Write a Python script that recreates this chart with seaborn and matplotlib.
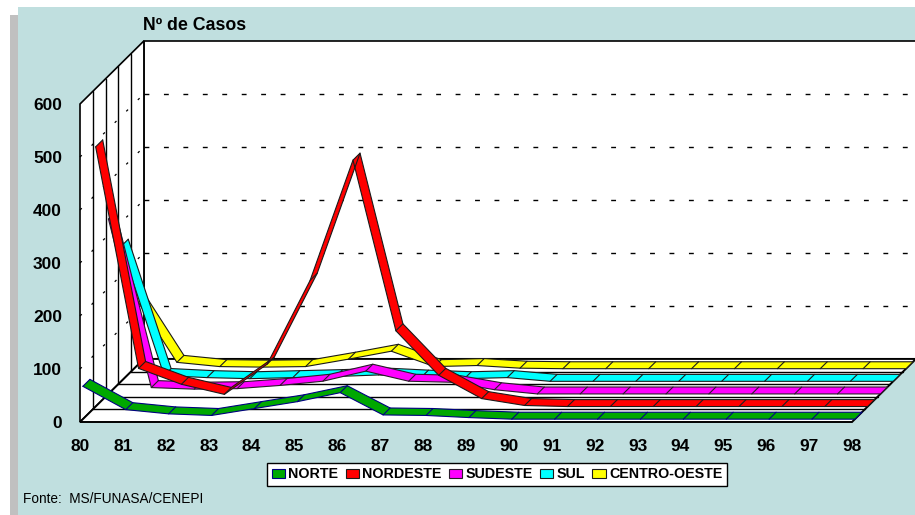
import numpy as np
import pandas as pd
import matplotlib
matplotlib.use('Agg')
import matplotlib.pyplot as plt
from matplotlib.patches import Patch, Rectangle, Polygon
import seaborn as sns

sns.set_theme(style='white')
plt.rcParams['font.family'] = ['Liberation Sans', 'DejaVu Sans']
plt.rcParams['text.color'] = 'black'

# dados (casos por regiao, 1980-1998)
anos = ['80', '81', '82', '83', '84', '85', '86', '87', '88', '89',
        '90', '91', '92', '93', '94', '95', '96', '97', '98']
regioes = ['NORTE', 'NORDESTE', 'SUDESTE', 'SUL', 'CENTRO-OESTE']
norte = [62, 18, 10, 7, 20, 33, 50, 8, 7, 3, 0, 0, 0, 0, 0, 0, 0, 0, 0]
nordeste = [490, 72, 42, 23, 80, 238, 465, 143, 59, 15, 2, 0, 0, 0, 0, 0, 0, 0, 0]
sudeste = [330, 12, 9, 10, 16, 24, 43, 24, 22, 8, 0, 0, 0, 0, 0, 0, 0, 0, 0]
sul = [255, 11, 7, 5, 7, 9, 12, 8, 5, 7, 0, 0, 0, 0, 0, 0, 0, 0, 0]
centro_oeste = [138, 12, 4, 3, 4, 18, 33, 4, 6, 1, 0, 0, 0, 0, 0, 0, 0, 0, 0]

series = [norte, nordeste, sudeste, sul, centro_oeste]
cores = ['#00A800', '#FF0000', '#FF00FF', '#00FFFF', '#FFFF00']
bordas = ['#000080', '#1a1a1a', '#2a1a2a', '#1a1a1a', '#1a1a1a']

# profundidade do grafico 3D (em unidades de dados)
DX = 1.49
DY = 119.0
N = len(regioes)
W = 0.55
YMAX = 600

W_PX, H_PX = 915, 515
fig = plt.figure(figsize=(W_PX / 100, H_PX / 100), dpi=100)
fig.patch.set_facecolor('white')
fig.patches.append(Rectangle((10 / W_PX, 0), 8 / W_PX, (H_PX - 15) / H_PX,
                             transform=fig.transFigure, facecolor='#C0C0C0',
                             edgecolor='none', zorder=-2))
fig.patches.append(Rectangle((18 / W_PX, 0), (W_PX - 18) / W_PX, (H_PX - 7) / H_PX,
                             transform=fig.transFigure, facecolor='#C0DFDF',
                             edgecolor='none', zorder=-2))

ax = fig.add_axes([80 / W_PX, (H_PX - 422) / H_PX, 772 / W_PX, 318 / H_PX])
ax.set_zorder(1)
ax.set_facecolor('none')
for s in ax.spines.values():
    s.set_visible(False)
xs = np.arange(len(anos))
nx = len(anos) - 1

# paredes: fundo, lateral e piso
line_kw = dict(color='black', clip_on=False)
ax.add_patch(Polygon([(DX, DY), (nx + DX, DY), (nx + DX, YMAX + DY), (DX, YMAX + DY)],
                     closed=True, facecolor='white', edgecolor='black', lw=1.2,
                     clip_on=False, zorder=1))
ax.add_patch(Polygon([(0, 0), (DX, DY), (DX, YMAX + DY), (0, YMAX)],
                     closed=True, facecolor='white', edgecolor='black', lw=1.2,
                     clip_on=False, zorder=1))
ax.add_patch(Polygon([(0, 0), (nx, 0), (nx + DX, DY), (DX, DY)],
                     closed=True, facecolor='white', edgecolor='black', lw=1.4,
                     clip_on=False, zorder=1))
for j in range(1, N):
    f = j / N
    ax.plot([f * DX, f * DX], [f * DY, YMAX + f * DY], lw=1.0, zorder=2, **line_kw)
    ax.plot([f * DX, nx + f * DX], [f * DY, f * DY], lw=1.0, zorder=2, **line_kw)
for v in range(100, YMAX, 100):
    ax.plot([DX, nx + DX], [v + DY, v + DY], lw=1.0, dashes=(3.5, 10.5), zorder=2, **line_kw)
    ax.plot([0, DX], [v, v + DY], lw=0.9, dashes=(2, 11), zorder=2, **line_kw)

# fitas 3D de cada regiao (de tras para frente)
for k in reversed(range(N)):
    vals = np.array(series[k], dtype=float)
    d0 = (k + 0.5 - W / 2) / N
    d1 = (k + 0.5 + W / 2) / N
    z = 10 + (N - 1 - k) * 2
    for i in range(nx):
        poly = [(xs[i] + d0 * DX, vals[i] + d0 * DY),
                (xs[i + 1] + d0 * DX, vals[i + 1] + d0 * DY),
                (xs[i + 1] + d1 * DX, vals[i + 1] + d1 * DY),
                (xs[i] + d1 * DX, vals[i] + d1 * DY)]
        ax.add_patch(Polygon(poly, closed=True, facecolor=cores[k], edgecolor='none',
                             clip_on=False, zorder=z))
    for d in (d0, d1):
        edge = pd.DataFrame({'x': xs + d * DX, 'y': vals + d * DY})
        sns.lineplot(data=edge, x='x', y='y', ax=ax, color=bordas[k], lw=0.8,
                     sort=False, estimator=None, legend=False, zorder=z + 0.5)
    sx, sy = [], []
    for i in range(len(xs)):
        sx += [xs[i] + d0 * DX, xs[i] + d1 * DX, np.nan]
        sy += [vals[i] + d0 * DY, vals[i] + d1 * DY, np.nan]
    ax.plot(sx, sy, color=bordas[k], lw=0.8, clip_on=False, zorder=z + 0.5)
for line in ax.lines:
    line.set_clip_on(False)

ax.set_xlim(0, nx)
ax.set_ylim(0, YMAX)
ax.set_xlabel('')
ax.set_ylabel('')
ax.set_xticks(xs)
ax.set_xticklabels(anos)
ax.set_yticks(range(0, YMAX + 1, 100))
ax.tick_params(axis='both', length=0, labelsize=12.5, colors='black')
ax.tick_params(axis='y', pad=13)
ax.tick_params(axis='x', pad=12.5)
for t in ax.get_xticklabels() + ax.get_yticklabels():
    t.set_fontweight('bold')

fig.text(143 / W_PX, 1 - 25 / H_PX, 'Nº de Casos', fontsize=12.8, fontweight='bold',
         ha='left', va='center')
fig.text(23 / W_PX, 1 - 499 / H_PX, 'Fonte:  MS/FUNASA/CENEPI', fontsize=9.8,
         ha='left', va='center')

handles = [Patch(facecolor=cores[k], edgecolor=bordas[k], lw=0.8) for k in range(N)]
leg = fig.legend(handles, regioes, loc='center', bbox_to_anchor=(497 / W_PX, 1 - 474.5 / H_PX),
                 ncol=N, frameon=True, fancybox=False, edgecolor='black', facecolor='white',
                 framealpha=1, prop={'weight': 'bold', 'size': 10.3}, handlelength=0.92,
                 handleheight=0.6, handletextpad=0.25, columnspacing=0.5,
                 borderpad=0.3, borderaxespad=0)
leg.get_frame().set_linewidth(1.0)

fig.savefig('out.png', dpi=100)
